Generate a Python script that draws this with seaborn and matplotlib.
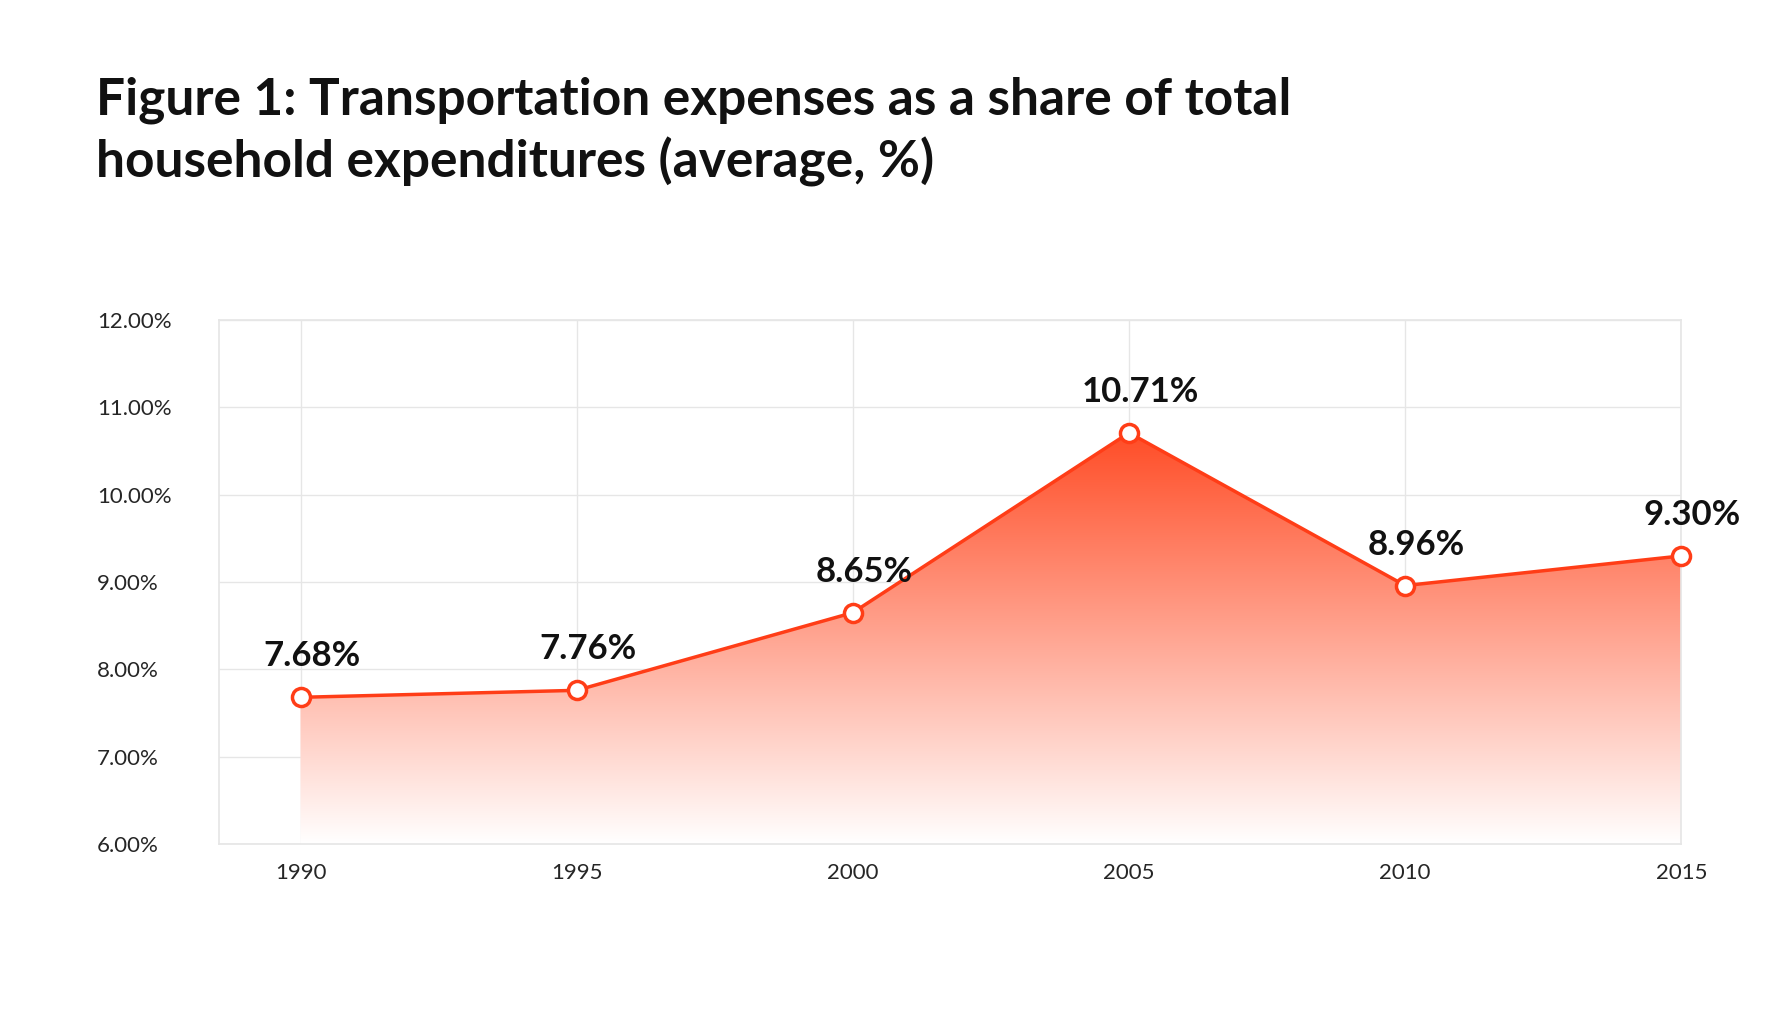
import matplotlib
matplotlib.use("Agg")
import matplotlib.pyplot as plt
import seaborn as sns
import numpy as np
import pandas as pd
from matplotlib.patches import Polygon
from matplotlib.colors import LinearSegmentedColormap

years = [1990, 1995, 2000, 2005, 2010, 2015]
values = [7.68, 7.76, 8.65, 10.71, 8.96, 9.30]
labels = ["7.68%", "7.76%", "8.65%", "10.71%", "8.96%", "9.30%"]
yticks = [6, 7, 8, 9, 10, 11, 12]

sns.set_theme(style="white")
plt.rcParams['font.family'] = ['Lato', 'DejaVu Sans']

fig = plt.figure(figsize=(17.83, 10.23), dpi=100)
ax = fig.add_axes([0.123, 0.175, 0.82, 0.512])
df = pd.DataFrame({"year": years, "value": values})

ax.set_xlim(1988.53, 2015)
ax.set_ylim(6, 12)

cmap = LinearSegmentedColormap.from_list("g", [(1, 1, 1, 1), (1, 0.3, 0.15, 1)])
grad = np.linspace(0, 1, 256).reshape(-1, 1)
im = ax.imshow(grad, extent=[1988.53, 2015, 6, max(values)], origin="lower",
               aspect="auto", cmap=cmap, zorder=1)
poly = Polygon(list(zip(years, values)) + [(years[-1], 6), (years[0], 6)],
               closed=True, transform=ax.transData, facecolor="none", edgecolor="none")
ax.add_patch(poly)
im.set_clip_path(poly)

sns.lineplot(data=df, x="year", y="value", ax=ax, color="#ff3d17", linewidth=2.5,
             marker="o", markersize=13, markerfacecolor="white",
             markeredgecolor="#ff3d17", markeredgewidth=2.5, zorder=3, clip_on=False)

for x, y, t in zip(years, values, labels):
    ax.annotate(t, (x, y), xytext=(8, 18), textcoords="offset points",
                ha="center", va="bottom", fontsize=25, fontweight="bold", color="#111111")

ax.set_xticks(years)
ax.set_xticklabels([str(y) for y in years], fontsize=16)
ax.set_yticks(yticks)
ax.set_yticklabels([f"{v:.2f}%" for v in yticks], fontsize=16)
ax.tick_params(axis="x", pad=14, length=0)
ax.tick_params(axis="y", pad=88, length=0)
for lab in ax.get_yticklabels():
    lab.set_horizontalalignment("left")
ax.grid(True, color="#e6e6e6", linewidth=1)
ax.set_axisbelow(True)
for s in ax.spines.values():
    s.set_color("#e6e6e6")
ax.set_xlabel("")
ax.set_ylabel("")

fig.text(0.054, 0.925, "Figure 1: Transportation expenses as a share of total\nhousehold expenditures (average, %)",
         fontsize=37, fontweight="bold", va="top", ha="left", color="#111111", linespacing=1.3)

fig.savefig("out.png", dpi=100, facecolor="white")
